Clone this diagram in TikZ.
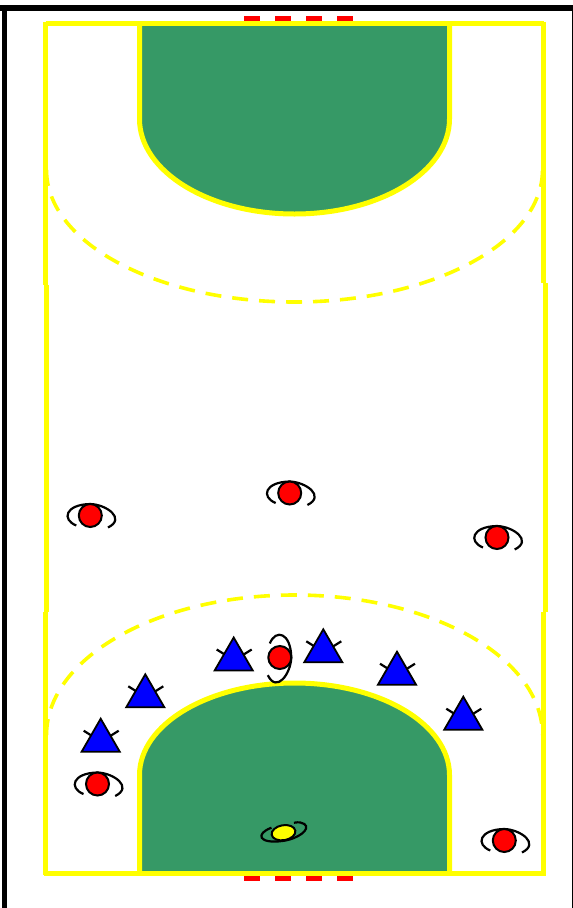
\documentclass[tikz,border=0pt]{standalone}
\usetikzlibrary{shapes.geometric}
\definecolor{areagreen}{HTML}{369966}
\definecolor{courtyellow}{RGB}{255,255,0}

\begin{document}
\begin{tikzpicture}[
    x=1pt, y=-1pt,
    fieldline/.style={draw=courtyellow, line width=5pt},
    arcline/.style={draw=courtyellow, line width=3.6pt, dash pattern=on 16pt off 11pt},
    goalline/.style={draw=red, line width=5pt, dash pattern=on 16pt off 15pt},
    frameline/.style={draw=black, line width=5.6pt},
    gesture/.style={draw=black, line width=2.2pt},
    hands/.style={draw=black, line width=2.2pt},
    attbody/.style={circle, draw=black, fill=red, line width=2pt, minimum size=23pt, inner sep=0pt, outer sep=0pt},
    defbody/.style={regular polygon, regular polygon sides=3, draw=black, fill=blue, line width=1.8pt, minimum size=44pt, inner sep=0pt, outer sep=0pt},
    ballbody/.style={ellipse, draw=black, fill=courtyellow, line width=2pt, minimum width=24pt, minimum height=15pt, inner sep=0pt, outer sep=0pt, rotate=10},
    attacker/.pic={
        \draw[gesture] (-14,10) .. controls (-29,4) and (-25,-11) .. (0,-11.5) .. controls (16,-11) and (36,3) .. (17.7,12);
        \node[attbody] (-body) at (0,0) {};
    },
    defender/.pic={
        \draw[hands] (-17,-10) -- (-9,-5);
        \draw[hands] (18,-10) -- (10,-5);
        \node[defbody] (-body) at (0,0) {};
    },
    ball/.pic={
        \draw[gesture, rotate=10] (-11,-7) .. controls (-28,-4) and (-27,7) .. (-2,8) .. controls (14,8.5) and (28,1) .. (22,-5) .. controls (20,-7) and (17,-8) .. (12,-8);
        \node[ballbody] (-body) at (0,0) {};
    }
]
    \useasboundingbox (0,0) rectangle (573,908);

    % frame of the image
    \draw[frameline] (0,7.8) -- (573,7.8);
    \draw[frameline] (4.5,10.6) -- (4.5,908);
    \draw[draw=black, line width=1pt] (572.3,8) -- (572.3,908);

    % goal areas
    \draw[fieldline, fill=areagreen] (139.5,23.5) -- (139.5,119) arc[start angle=180, end angle=360, x radius=155, y radius=-95] -- (449.5,23.5);
    \draw[fieldline, fill=areagreen] (139.5,873) -- (139.5,775) arc[start angle=180, end angle=360, x radius=155, y radius=92] -- (449.5,873);

    % court lines
    \draw[fieldline] (45.5,21.5) -- (45.5,285);
    \draw[fieldline] (46.5,285) -- (46.5,612);
    \draw[fieldline] (45.5,612) -- (45.5,875);
    \draw[fieldline] (543.5,21.5) -- (543.5,283);
    \draw[fieldline] (545,283) -- (545,612);
    \draw[fieldline] (543.5,612) -- (543.5,875);
    \draw[fieldline] (45.5,23.5) -- (543.5,23.5);
    \draw[fieldline] (43.5,873.3) -- (545.5,873.3);

    % free throw lines
    \draw[arcline] (46.5,170) arc[start angle=180, end angle=360, x radius=248, y radius=-132];
    \draw[arcline] (46.5,735) arc[start angle=180, end angle=360, x radius=248, y radius=140];

    % goals
    \draw[goalline] (244,18.5) -- (354,18.5);
    \draw[goalline] (244,878.3) -- (354,878.3);

    % attackers
    \pic (att1) at (90.3,515.5) {attacker};
    \pic (att2) at (289.7,493) {attacker};
    \pic (att3) at (497,537.5) {attacker};
    \pic (att4) at (97.5,784) {attacker};
    \pic (att5) at (504.3,840.5) {attacker};
    \pic[rotate=-90] (att6) at (279.8,657.5) {attacker};

    % defenders
    \pic (def1) at (100.7,740.7) {defender};
    \pic (def2) at (145.3,696.3) {defender};
    \pic (def3) at (233.7,659.5) {defender};
    \pic (def4) at (323.3,651.3) {defender};
    \pic (def5) at (397,673.7) {defender};
    \pic (def6) at (463.3,718.7) {defender};

    % ball
    \pic (ball1) at (283.5,832.7) {ball};
\end{tikzpicture}
\end{document}
